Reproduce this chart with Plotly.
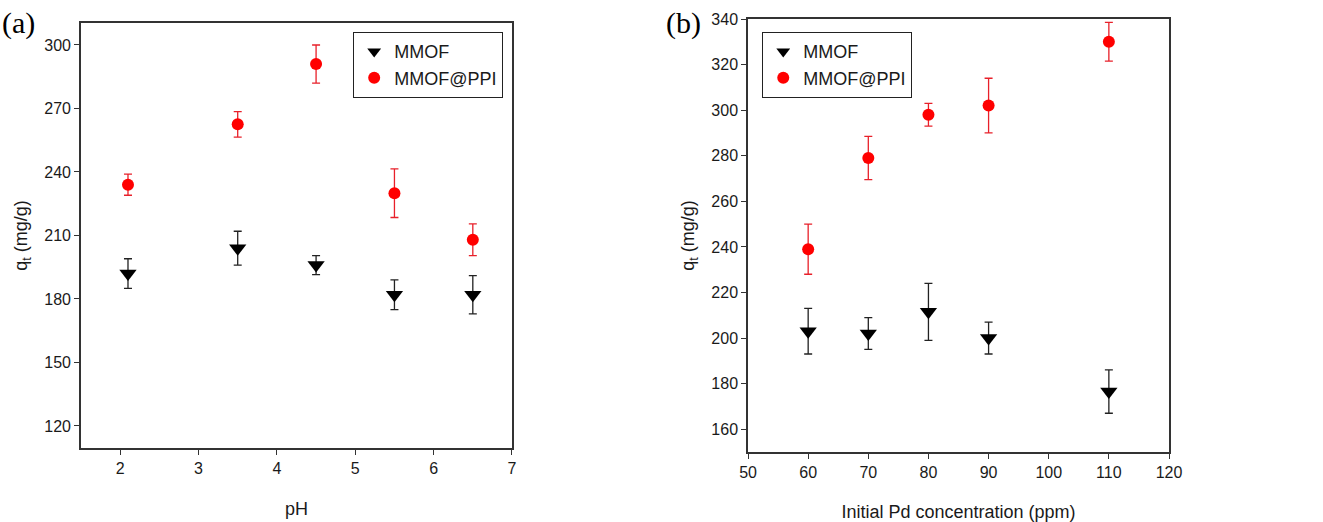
import plotly.graph_objects as go

# Panel (a): effect of pH
ph = [2.1, 3.5, 4.5, 5.5, 6.5]
mmof_a = [192, 204, 196, 182, 182]
mmof_a_err = [7, 8, 4.5, 7, 9]
ppi_a = [234, 262.5, 291, 230, 208]
ppi_a_err = [5, 6, 9, 11.5, 7.5]

# Panel (b): effect of initial Pd concentration
conc = [60, 70, 80, 90, 110]
mmof_b = [203, 202, 211.5, 200, 176.5]
mmof_b_err = [10, 7, 12.5, 7, 9.5]
ppi_b = [239, 279, 298, 302, 330]
ppi_b_err = [11, 9.5, 5, 12, 8.5]

BLACK = "#000000"
RED = "#ff0000"
AXIS = "#333333"
FONT = "Liberation Sans, Arial, sans-serif"

fig = go.Figure()

def add_pair(x, yb, eb, yr, er, xa, ya, leg):
    fig.add_trace(go.Scatter(
        x=x, y=yb, mode="markers", name="MMOF",
        marker=dict(symbol="triangle-down", size=15, color=BLACK),
        error_y=dict(type="data", array=eb, color="#222222", thickness=1.3, width=4),
        xaxis=xa, yaxis=ya, legend=leg))
    fig.add_trace(go.Scatter(
        x=x, y=yr, mode="markers", name="MMOF@PPI",
        marker=dict(symbol="circle", size=12, color=RED),
        error_y=dict(type="data", array=er, color="#e8202a", thickness=1.3, width=4),
        xaxis=xa, yaxis=ya, legend=leg))

add_pair(ph, mmof_a, mmof_a_err, ppi_a, ppi_a_err, "x", "y", "legend")
add_pair(conc, mmof_b, mmof_b_err, ppi_b, ppi_b_err, "x2", "y2", "legend2")

axis_common = dict(
    showgrid=False, zeroline=False, showline=True, mirror=True, automargin=False,
    linecolor=AXIS, linewidth=1.5, ticks="outside", ticklen=5, tickwidth=1.3,
    tickcolor=AXIS, tickfont=dict(family=FONT, size=16, color="#1a1a1a"),
    title_font=dict(family=FONT, size=18, color="#1a1a1a"),
)

legend_common = dict(
    xanchor="left", yanchor="top", bordercolor="#222222", borderwidth=1.2, bgcolor="white",
    font=dict(family=FONT, size=18, color="#1a1a1a"), tracegroupgap=0, itemsizing="constant",
)

fig.update_layout(
    width=1323, height=522, margin=dict(l=0, r=0, t=0, b=0, autoexpand=False),
    paper_bgcolor="white", plot_bgcolor="white",
    font=dict(family=FONT, size=16, color="#1a1a1a"),
    xaxis=dict(domain=[0.0612, 0.387], range=[1.5, 7], dtick=1,
               title=dict(text="pH", standoff=26), anchor="y", **axis_common),
    yaxis=dict(domain=[0.1418, 0.956], range=[109.6, 310.4], tickvals=[120, 150, 180, 210, 240, 270, 300],
               title=dict(text="q<sub>t</sub> (mg/g)", standoff=12), anchor="x", **axis_common),
    xaxis2=dict(domain=[0.5654, 0.8836], range=[50, 120], dtick=10,
                title=dict(text="Initial Pd concentration (ppm)", standoff=26), anchor="y2", **axis_common),
    yaxis2=dict(domain=[0.1341, 0.9636], range=[150, 340], dtick=20,
                title=dict(text="q<sub>t</sub> (mg/g)", standoff=12), anchor="x2", **axis_common),
    legend=dict(x=0.2668, y=0.9387, **legend_common),
    legend2=dict(x=0.576, y=0.9387, **legend_common),
    annotations=[
        dict(text="(a)", x=0.0, y=0.993, xref="paper", yref="paper", xanchor="left", yanchor="top",
             showarrow=False, font=dict(family="Liberation Serif, Times New Roman, serif", size=30, color="#000000")),
        dict(text="(b)", x=0.502, y=0.993, xref="paper", yref="paper", xanchor="left", yanchor="top",
             showarrow=False, font=dict(family="Liberation Serif, Times New Roman, serif", size=30, color="#000000")),
    ],
)

fig.write_html("out.html")
